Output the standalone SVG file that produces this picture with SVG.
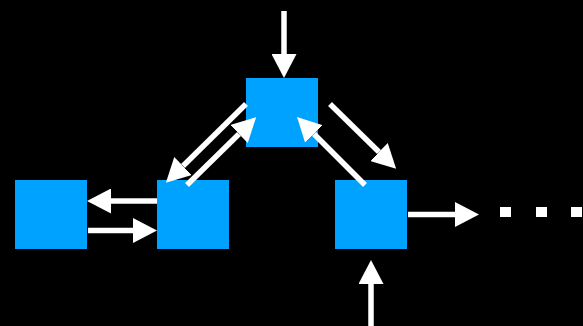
<svg xmlns="http://www.w3.org/2000/svg" width="583" height="326" viewBox="0 0 583 326">
<style>
.node{fill:#00A2FF}
.edge{stroke:#FFFFFF;stroke-width:5.5;fill:none;marker-end:url(#ah)}
.dot{fill:#FFFFFF}
</style>
<defs>
<marker id="ah" markerUnits="userSpaceOnUse" viewBox="0 0 24 25" refX="0" refY="12.5" markerWidth="24" markerHeight="25" orient="auto">
<path d="M0,0 L24,12.5 L0,25 z" fill="#FFFFFF"/>
</marker>
</defs>
<rect x="0" y="0" width="583" height="326" fill="#000000"/>
<g id="node-top"><rect class="node" x="246" y="78" width="72" height="69"/></g>
<g id="node-left"><rect class="node" x="15" y="180" width="72" height="69"/></g>
<g id="node-mid"><rect class="node" x="157" y="180" width="72" height="69"/></g>
<g id="node-right"><rect class="node" x="335" y="180" width="72" height="69"/></g>
<g id="connectors">
<line class="edge" x1="284" y1="11" x2="284" y2="54"/>
<line class="edge" x1="157" y1="201" x2="111" y2="201"/>
<line class="edge" x1="88" y1="230.5" x2="133" y2="230.5"/>
<line class="edge" x1="408" y1="214.5" x2="455" y2="214.5"/>
<line class="edge" x1="371" y1="326" x2="371" y2="284"/>
<line class="edge" x1="246" y1="104" x2="183" y2="166"/>
<line class="edge" x1="187" y1="185" x2="239" y2="134"/>
<line class="edge" x1="330" y1="104" x2="379" y2="152"/>
<line class="edge" x1="365" y1="185" x2="314" y2="134"/>
</g>
<g id="ellipsis">
<rect class="dot" x="500" y="207" width="11" height="10"/>
<rect class="dot" x="536" y="207" width="11" height="10"/>
<rect class="dot" x="571" y="207" width="11" height="10"/>
</g>
</svg>
